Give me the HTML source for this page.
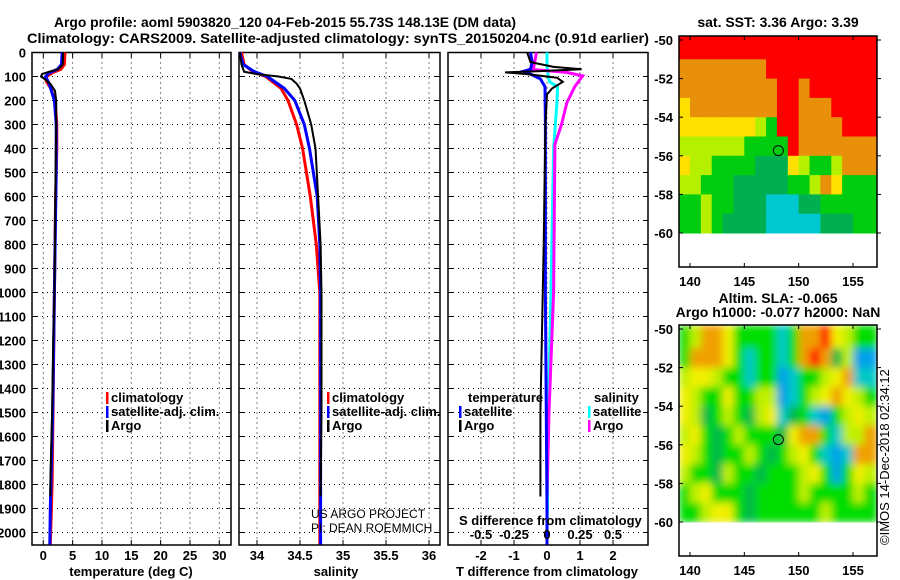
<!DOCTYPE html>
<html><head><meta charset="utf-8">
<style>
html,body{margin:0;padding:0;background:#fff;}
svg{display:block;font-family:"Liberation Sans",sans-serif;}
.t{font-weight:bold;font-size:14px;}
.tk{font-weight:bold;font-size:13px;}
</style></head>
<body>
<svg id="c" width="900" height="580" viewBox="0 0 900 580" xmlns="http://www.w3.org/2000/svg">
<defs>
<filter id="bl" x="0" y="0" width="1" height="1"><feGaussianBlur stdDeviation="4" edgeMode="duplicate"/></filter>
<clipPath id="cp2"><rect x="679" y="325" width="198" height="198"/></clipPath>
</defs>
<text class="t" x="54" y="27" textLength="462" lengthAdjust="spacingAndGlyphs">Argo profile: aoml 5903820_120 04-Feb-2015 55.73S 148.13E (DM data)</text>
<text class="t" x="27" y="43" textLength="622" lengthAdjust="spacingAndGlyphs">Climatology: CARS2009. Satellite-adjusted climatology: synTS_20150204.nc (0.91d earlier)</text>
<text class="t" x="778" y="27" text-anchor="middle">sat. SST: 3.36 Argo: 3.39</text>
<text class="t" x="778" y="303" text-anchor="middle">Altim. SLA: -0.065</text>
<text class="t" x="778" y="317" text-anchor="middle">Argo h1000: -0.077 h2000: NaN</text>
<text x="889" y="545" font-size="13" transform="rotate(-90 889 545)">©IMOS 14-Dec-2018 02:34:12</text>
</svg>
<script>
// ---- data ----
var depthTicks=[0,100,200,300,400,500,600,700,800,900,1000,1100,1200,1300,1400,1500,1600,1700,1800,1900,2000];
var tempTicks=[0,5,10,15,20,25,30];
var salTicks=[34,34.5,35,35.5,36];
var tdiffTicks=[-2,-1,0,1,2];
var sdiffTicks=[-0.5,-0.25,0,0.25,0.5];
var sdiffTickLabels=["-0.5","-0.25","0","0.25","0.5"];
var climDepth=[0,50,70,85,100,120,150,200,300,400,600,1000,1400,1800,2050];
var climTemp=[3.7,3.6,3.0,1.5,0.6,0.5,1.3,2.0,2.3,2.3,2.1,1.9,1.7,1.5,1.2];
var satDepth=[0,50,70,85,100,130,200,300,500,1000,1500,1900,2050];
var satTemp=[3.2,3.1,2.4,1.0,0.4,1.0,1.9,2.2,2.2,1.9,1.6,1.2,1.1];
var argoDepth=[0,50,70,80,90,100,110,130,160,200,300,500,800,1000,1200,1500,1800,1850];
var argoTemp=[3.4,3.3,2.5,1.0,-0.2,-0.4,0.2,1.2,2.0,2.2,2.2,2.1,2.0,1.9,1.7,1.5,1.2,1.2];
var climSalDepth=[0,50,80,100,150,200,300,400,600,800,1000,1500,2050];
var climSal=[33.82,33.85,33.95,34.1,34.28,34.36,34.46,34.53,34.62,34.69,34.73,34.73,34.73];
var satSalDepth=[0,50,80,100,150,200,300,400,600,800,1000,1500,2050];
var satSal=[33.8,33.84,33.97,34.12,34.32,34.44,34.55,34.61,34.7,34.73,34.74,34.74,34.74];
var argoSalDepth=[0,50,80,90,100,110,130,150,200,300,400,600,800,1000,1500,1850];
var argoSal=[33.8,33.82,33.85,34.0,34.25,34.4,34.46,34.5,34.55,34.63,34.68,34.71,34.74,34.75,34.75,34.74];
var tdArgoDepth=[0,40,60,70,78,83,90,105,122,150,175,300,800,1500,1850];
var tdArgo=[-0.6,-0.5,0.2,1.05,-0.3,-1.27,-0.6,0.3,0.48,0.15,0.0,-0.05,-0.1,-0.2,-0.2];
var tdSatDepth=[0,40,70,78,90,110,143,300,1000,1900,2050];
var tdSat=[-0.5,-0.45,-0.5,-0.7,-0.5,-0.2,-0.06,-0.05,-0.05,0.0,0.0];
var sdSatDepth=[0,60,100,122,143,210,400,1000,1500,2050];
var sdSat=[0.0,0.0,0.01,0.02,0.08,0.075,0.05,0.03,0.01,0.0];
var sdArgoDepth=[0,60,70,83,97,143,210,300,383,1000,1500,1850];
var sdArgo=[-0.08,-0.1,-0.13,0.15,0.27,0.21,0.15,0.11,0.06,0.05,0.015,0.0];
var lonTicks=[140,145,150,155];
var latTicks=[-50,-52,-54,-56,-58,-60];
var sstRows=[
"RRRRRRRRRRRRRRRRRR",
"OOOOOOOORRRRRRRRRR",
"OOOOOOOOORRORRRRRR",
"YOOOOOOOORROOORRRR",
"YYYYYYYLGRROOOORRR",
"LLLLLLGGGGROOOOOOO",
"YLLGGGGDDDYLGGLOOO",
"LLGGGDDDDDGGLOYGGG",
"GGLGGDDDCCCDDGGGGG",
"GGLGDDDDCCCCCDDDGG"];
var slaRows=[
"GLOOYGGGGCGOORYLGG",
"GOOOYGCGGCGORODLBB",
"LYYLGGCGGBCGGLYOCC",
"YLGGYGGLLBCGLYOYLG",
"YLDGLGDLYCDGCBGLYL",
"LYGDGLGGGDYOOGCLLO",
"YLGDGGLGDGLYGCBCOO",
"LGGDLGGDGGGLYGBGYL",
"GLYGGGDGGGGLGGGGLG",
"GGLYYGDGGGGGGLGGGG"];
var argoLon=148.13, argoLat=-55.73;

// ---- drawing ----
var S=document.getElementById('c'), NS='http://www.w3.org/2000/svg';
function mk(tag,at,par){var e=document.createElementNS(NS,tag);for(var k in at)e.setAttribute(k,at[k]);(par||S).appendChild(e);return e;}
function lin(d0,d1,r0,r1){return function(v){return r0+(v-d0)/(d1-d0)*(r1-r0);};}
var yD=lin(0,2000,52.5,532.5);
var P1={x0:32,x1:231},P2={x0:239,x1:440},P3={x0:448,x1:648};
var yTop=52.5,yBot=545;
var xT=lin(0,30,43.3,219.3), xS=lin(34,35,257,343), xTD=lin(0,2,547,613), xSD=lin(0,0.5,547,613);

function panel(P,name,xticks,xf,labs,labY){
  var g=mk('g',{});  
  depthTicks.forEach(function(d){var y=yD(d);
    var l=mk('line',{x1:P.x0,x2:P.x1,y1:y,y2:y,stroke:'#000','stroke-width':1,'stroke-dasharray':'1,4'},g);
    
    mk('line',{x1:P.x0,x2:P.x0+5,y1:y,y2:y,stroke:'#000'},g);mk('line',{x1:P.x1-5,x2:P.x1,y1:y,y2:y,stroke:'#000'},g);});
  xticks.forEach(function(v,i){var x=xf(v);
    var l=mk('line',{x1:x,x2:x,y1:yTop,y2:yBot,stroke:'#000','stroke-width':1,'stroke-dasharray':'1,4'},g);
    
    mk('line',{x1:x,x2:x,y1:yBot-5,y2:yBot,stroke:'#000'},g);mk('line',{x1:x,x2:x,y1:yTop,y2:yTop+5,stroke:'#000'},g);
    if(labs){var t=mk('text',{x:x,y:labY,'text-anchor':'middle','class':'tk'},g);t.textContent=labs[i];
      }});
  var r=mk('rect',{x:P.x0,y:yTop,width:P.x1-P.x0,height:yBot-yTop,fill:'none',stroke:'#000','stroke-width':1.5},g);
  
  return g;
}
function line(g,depths,vals,xf,col,w,name){
  var pts=depths.map(function(d,i){return xf(vals[i]).toFixed(1)+','+yD(d).toFixed(1);}).join(' ');
  var p=mk('polyline',{points:pts,fill:'none',stroke:col,'stroke-width':w,'stroke-linejoin':'miter'},g);
  
}
function txt(s,x,y,cls,anchor,name,extra){var t=mk('text',{x:x,y:y},null);if(cls)t.setAttribute('class',cls);if(anchor)t.setAttribute('text-anchor',anchor);
  if(extra)for(var k in extra)t.setAttribute(k,extra[k]);t.textContent=s;
  return t;}

depthTicks.forEach(function(d){txt(String(d),26,yD(d)+5,'tk','end','depth-tick-label');});

var g1=panel(P1,'temperature-panel',tempTicks,xT,tempTicks.map(String),560);
line(g1,climDepth,climTemp,xT,'#f00',3,'climatology-temp-line');
line(g1,satDepth,satTemp,xT,'#00f',3,'satellite-temp-line');
line(g1,argoDepth,argoTemp,xT,'#000',2,'argo-temp-line');
var g2=panel(P2,'salinity-panel',salTicks,xS,salTicks.map(String),560);
line(g2,climSalDepth,climSal,xS,'#f00',3,'climatology-sal-line');
line(g2,satSalDepth,satSal,xS,'#00f',3,'satellite-sal-line');
line(g2,argoSalDepth,argoSal,xS,'#000',2,'argo-sal-line');
var g3=panel(P3,'difference-panel',tdiffTicks,xTD,tdiffTicks.map(String),560);
sdiffTicks.forEach(function(v,i){txt(sdiffTickLabels[i],xSD(v),539,'tk','middle','s-diff-tick-label');});
line(g3,sdSatDepth,sdSat,xSD,'#0ff',3,'salinity-satellite-diff-line');
line(g3,sdArgoDepth,sdArgo,xSD,'#f0f',3,'salinity-argo-diff-line');
line(g3,tdSatDepth,tdSat,xTD,'#00f',3,'temperature-satellite-diff-line');
line(g3,tdArgoDepth,tdArgo,xTD,'#000',2,'temperature-argo-diff-line');

function leg(x,y,col,s,name){var r=mk('rect',{x:x,y:y-10,width:2.5,height:12,fill:col});
  
  txt(s,x+5,y,'tk',null,name);}
leg(106,402,'#f00','climatology','legend-climatology');
leg(106,416,'#00f','satellite-adj. clim.','legend-satellite-adj');
leg(106,430,'#000','Argo','legend-argo');
leg(327,402,'#f00','climatology','legend-climatology-2');
leg(327,416,'#00f','satellite-adj. clim.','legend-satellite-adj-2');
leg(327,430,'#000','Argo','legend-argo-2');
txt('temperature',468,402,'tk',null,'legend-temperature-heading');
leg(459,416,'#00f','satellite','legend-temp-satellite');
leg(459,430,'#000','Argo','legend-temp-argo');
txt('salinity',594,402,'tk',null,'legend-salinity-heading');
leg(588,416,'#0ff','satellite','legend-sal-satellite');
leg(588,430,'#f0f','Argo','legend-sal-argo');
txt('US ARGO PROJECT',311,518,null,null,'project-credit',{'font-size':'12'});
txt('PI: DEAN ROEMMICH',311,532,null,null,'pi-credit',{'font-size':'12'});
txt('S difference from climatology',459,525,'tk',null,'s-diff-axis-title');
txt('temperature (deg C)',131,576,'tk','middle','temperature-axis-title');
txt('salinity',336,576,'tk','middle','salinity-axis-title');
txt('T difference from climatology',547,576,'tk','middle','t-diff-axis-title');

var pal1={R:'#ff0000',O:'#e8900a',Y:'#ffe000',L:'#b4f000',G:'#00cc10',D:'#00b050',C:'#00c8d0',B:'#0090ff'};
var pal2={R:'#ff0000',O:'#f0a000',Y:'#f0f000',L:'#c0f000',G:'#00dd00',D:'#00b848',C:'#00c8c8',B:'#00a0e8'};
function map(y0,rows,pal,name,mx,smooth){
  var X=lin(140,155,690,853), Y=lin(-50,-60,y0+4,y0+197);
  var g=mk('g',{});  
  var cg=mk('g',{},g);  
  var tg=cg;
  if(smooth){cg.setAttribute('clip-path','url(#cp2)'); tg=mk('g',{filter:'url(#bl)'},cg);}
  rows.forEach(function(row,ri){for(var ci=0;ci<row.length;ci++){
    var lon=139+ci, lat=-50-ri;
    var x=Math.max(X(lon),679), xe=(ci==row.length-1)?877:X(lon+1);
    var ys=ri==0?y0:Y(lat);
    var c=mk('rect',{x:x,y:ys,width:xe-x+0.5,height:Y(lat-1)-ys+0.5,fill:pal[row[ci]]},tg);
    }});
  var fr=mk('rect',{x:679,y:y0,width:198,height:231,fill:'none',stroke:'#000','stroke-width':1.5},g);
  
  lonTicks.forEach(function(v){var x=X(v);mk('line',{x1:x,x2:x,y1:y0,y2:y0+4,stroke:'#000'},g);mk('line',{x1:x,x2:x,y1:y0+231,y2:y0+227,stroke:'#000'},g);
    txt(String(v),x,y0+250,'tk','middle','lon-tick-label');});
  latTicks.forEach(function(v){var y=Y(v);mk('line',{x1:679,x2:683,y1:y,y2:y,stroke:'#000'},g);mk('line',{x1:877,x2:881,y1:y,y2:y,stroke:'#000'},g);
    txt(String(v),673,y+5,'tk','end','lat-tick-label');});
  var m=mk('circle',{cx:X(argoLon),cy:Y(argoLat),r:5,fill:'none',stroke:'#000','stroke-width':1},g);
  
}
map(36,sstRows,pal1,'sst-map','argo-location-marker-sst',false);
map(325,slaRows,pal2,'sla-map','argo-location-marker-sla',true);
</script>
</body></html>
